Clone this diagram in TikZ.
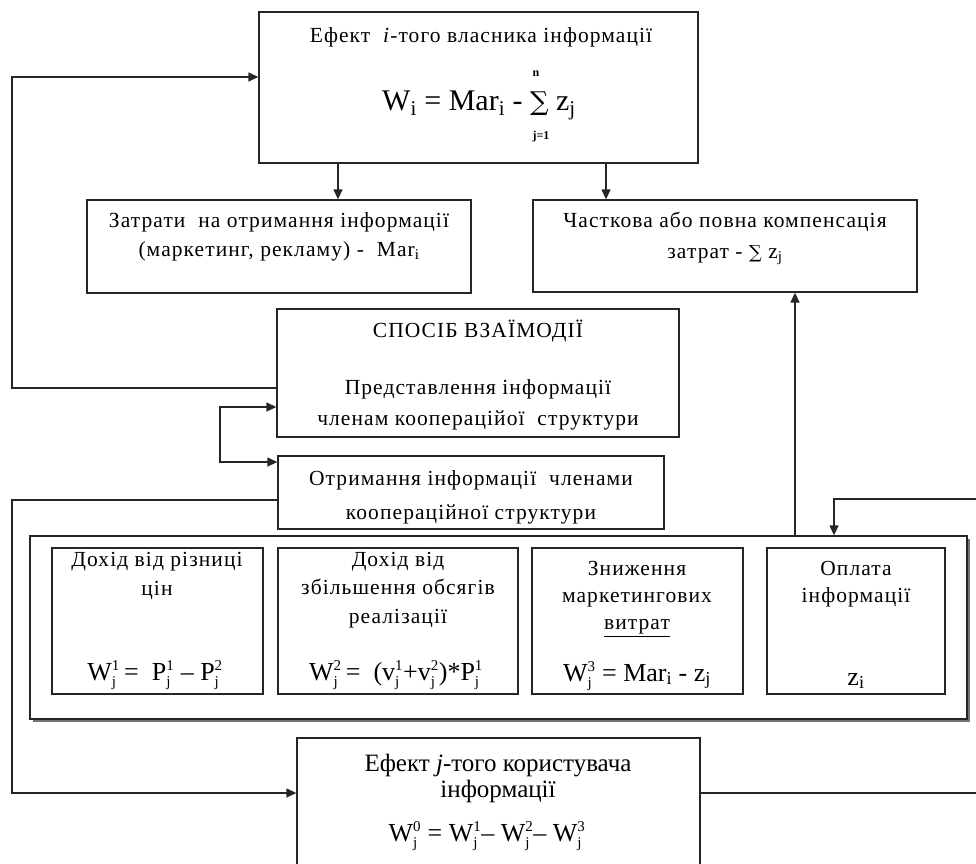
\documentclass[tikz,border=0pt]{standalone}
\usepackage{amsmath}
\usepackage{fontspec}
\setmainfont{Liberation Serif}
\newfontfamily\symf{DejaVu Serif}
\usetikzlibrary{arrows.meta,fit,calc}
\newcommand\supsb[2]{\ensuremath{^{\text{\fontsize{15}{15}\selectfont #1}}_{\text{\fontsize{15}{15}\selectfont #2}}}}
\newcommand\sbs[1]{\textsubscript{#1}}
\tikzset{
  box/.style={draw=black!85, line width=1.3pt, inner sep=0pt, fill=white},
  conn/.style={draw=black!85, line width=1.3pt},
  arr/.style={conn, -{Triangle[length=10pt,width=9pt]}},
  biarr/.style={conn, {Triangle[length=10pt,width=9pt]}-{Triangle[length=10pt,width=9pt]}},
  txt/.style={font=\fontsize{21.5}{22}\selectfont\addfontfeature{LetterSpace=5}, inner sep=0pt, anchor=base},
  ctxt/.style={font=\fontsize{25}{26}\selectfont, inner sep=0pt, anchor=base},
  frm/.style={font=\fontsize{26}{28}\selectfont, inner sep=0pt, anchor=base},
  big/.style={font=\fontsize{30}{32}\selectfont, inner sep=0pt, anchor=base west},
  tiny/.style={font=\fontsize{12}{12}\selectfont\bfseries, inner sep=0pt, anchor=base},
}
\begin{document}
\begin{tikzpicture}[x=1pt,y=-1pt]
\useasboundingbox (0,0) rectangle (976,863);
% boxes
\node[box, fit={(259,12)(698,163)}] (top) {};
\node[box, fit={(87,200)(471,293)}] (zat) {};
\node[box, fit={(533,200)(917,292)}] (chast) {};
\node[box, fit={(277,309)(679,437)}] (spos) {};
\node[box, fit={(278,456)(664,529)}] (otr) {};
\fill[black!55] (33,539) rectangle (970,722);
\node[box, fit={(30,536)(967,719)}] (outer) {};
\node[box, fit={(52,548)(263,694)}] (b1) {};
\node[box, fit={(278,548)(518,694)}] (b2) {};
\node[box, fit={(532,548)(743,694)}] (b3) {};
\node[box, fit={(767,548)(945,694)}] (b4) {};
\node[box, fit={(297,738)(700,868)}] (efj) {};
% texts
\node[txt] (t1) at (481,42) {Ефект\ \ \textit{i}-того власника інформації};
\node[big] (t2) at (382,110) {W\sbs{i} = Mar\sbs{i} - {\symf\fontsize{26}{26}\selectfont ∑} z\sbs{j}};
\node[tiny] (t3) at (536,76) {n};
\node[tiny] (t4) at (541,139) {j=1};
\node[txt] (z1) at (279,227) {Затрати\ \ на отримання інформації};
\node[txt] (z2) at (279,256) {(маркетинг, рекламу) -\ \ Mar\sbs{i}};
\node[txt] (c1) at (725,227) {Часткова або повна компенсація};
\node[txt] (c2) at (725,258) {затрат - {\symf\fontsize{18}{18}\selectfont ∑} z\sbs{j}};
\node[txt] (s1) at (478,337) {СПОСІБ ВЗАЇМОДІЇ};
\node[txt] (s2) at (478,394) {Представлення інформації};
\node[txt] (s3) at (478,425) {членам коопераційої\ \ структури};
\node[txt] (o1) at (471,485) {Отримання інформації\ \ членами};
\node[txt] (o2) at (471,519) {кооперaційної\ структури};
\node[txt] (p1) at (157,566) {Дохід від різниці};
\node[txt] (p2) at (157,595) {цін};
\node[frm] (p3) at (155,680) {W\supsb{1}{j}\,=\ \ P\supsb{1}{j} – P\supsb{2}{j}};
\node[txt] (q1) at (398,566) {Дохід від};
\node[txt] (q2) at (398,594) {збільшення обсягів};
\node[txt] (q3) at (398,623) {реалізації};
\node[frm] (q4) at (396,680) {W\supsb{2}{j}\,=\ \ (v\supsb{1}{j}+v\supsb{2}{j})*P\supsb{1}{j}};
\node[txt] (r1) at (637,575) {Зниження};
\node[txt] (r2) at (637,602) {маркетингових};
\node[txt] (r3) at (637,629) {\underline{витрат}};
\node[frm] (r4) at (637,681) {W\supsb{3}{j} = Mar\sbs{i} - z\sbs{j}};
\node[txt] (u1) at (856,575) {Оплата};
\node[txt] (u2) at (856,602) {інформації};
\node[frm] (u3) at (856,685) {z\sbs{i}};
\node[ctxt] (e1) at (498,771) {Ефект \textit{j}-того користувача};
\node[ctxt] (e2) at (498,797) {інформації};
\node[frm, font=\fontsize{26}{26}\selectfont] (e3) at (487,841) {W\supsb{0}{j} = W\supsb{1}{j}– W\supsb{2}{j}– W\supsb{3}{j}};
% helper coordinates
\coordinate (xa) at (338,0);
\coordinate (xb) at (606,0);
\coordinate (xc) at (795,0);
\coordinate (xd) at (834,0);
\coordinate (ya) at (0,77);
\coordinate (yb) at (0,388);
\coordinate (yc) at (0,407);
\coordinate (yd) at (0,462);
\coordinate (ye) at (0,500);
\coordinate (yf) at (0,793);
\coordinate (L1) at (12,388);
\coordinate (L2) at (12,77);
\coordinate (M1) at (220,407);
\coordinate (M2) at (220,462);
\coordinate (L3) at (12,500);
\coordinate (L4) at (12,793);
\coordinate (R1) at (982,793);
\coordinate (R2) at (982,499);
\coordinate (R3) at (834,499);
% connectors
\draw[arr] (top.south -| xa) -- (zat.north -| xa);
\draw[arr] (top.south -| xb) -- (chast.north -| xb);
\draw[arr] (outer.north -| xc) -- (chast.south -| xc);
\draw[arr] (spos.west |- yb) -- (L1) -- (L2) -- (top.west |- ya);
\draw[biarr] (spos.west |- yc) -- (M1) -- (M2) -- (otr.west |- yd);
\draw[arr] (otr.west |- ye) -- (L3) -- (L4) -- (efj.west |- yf);
\draw[arr] (efj.east |- yf) -- (R1) -- (R2) -- (R3) -- (outer.north -| xd);
\end{tikzpicture}
\end{document}
